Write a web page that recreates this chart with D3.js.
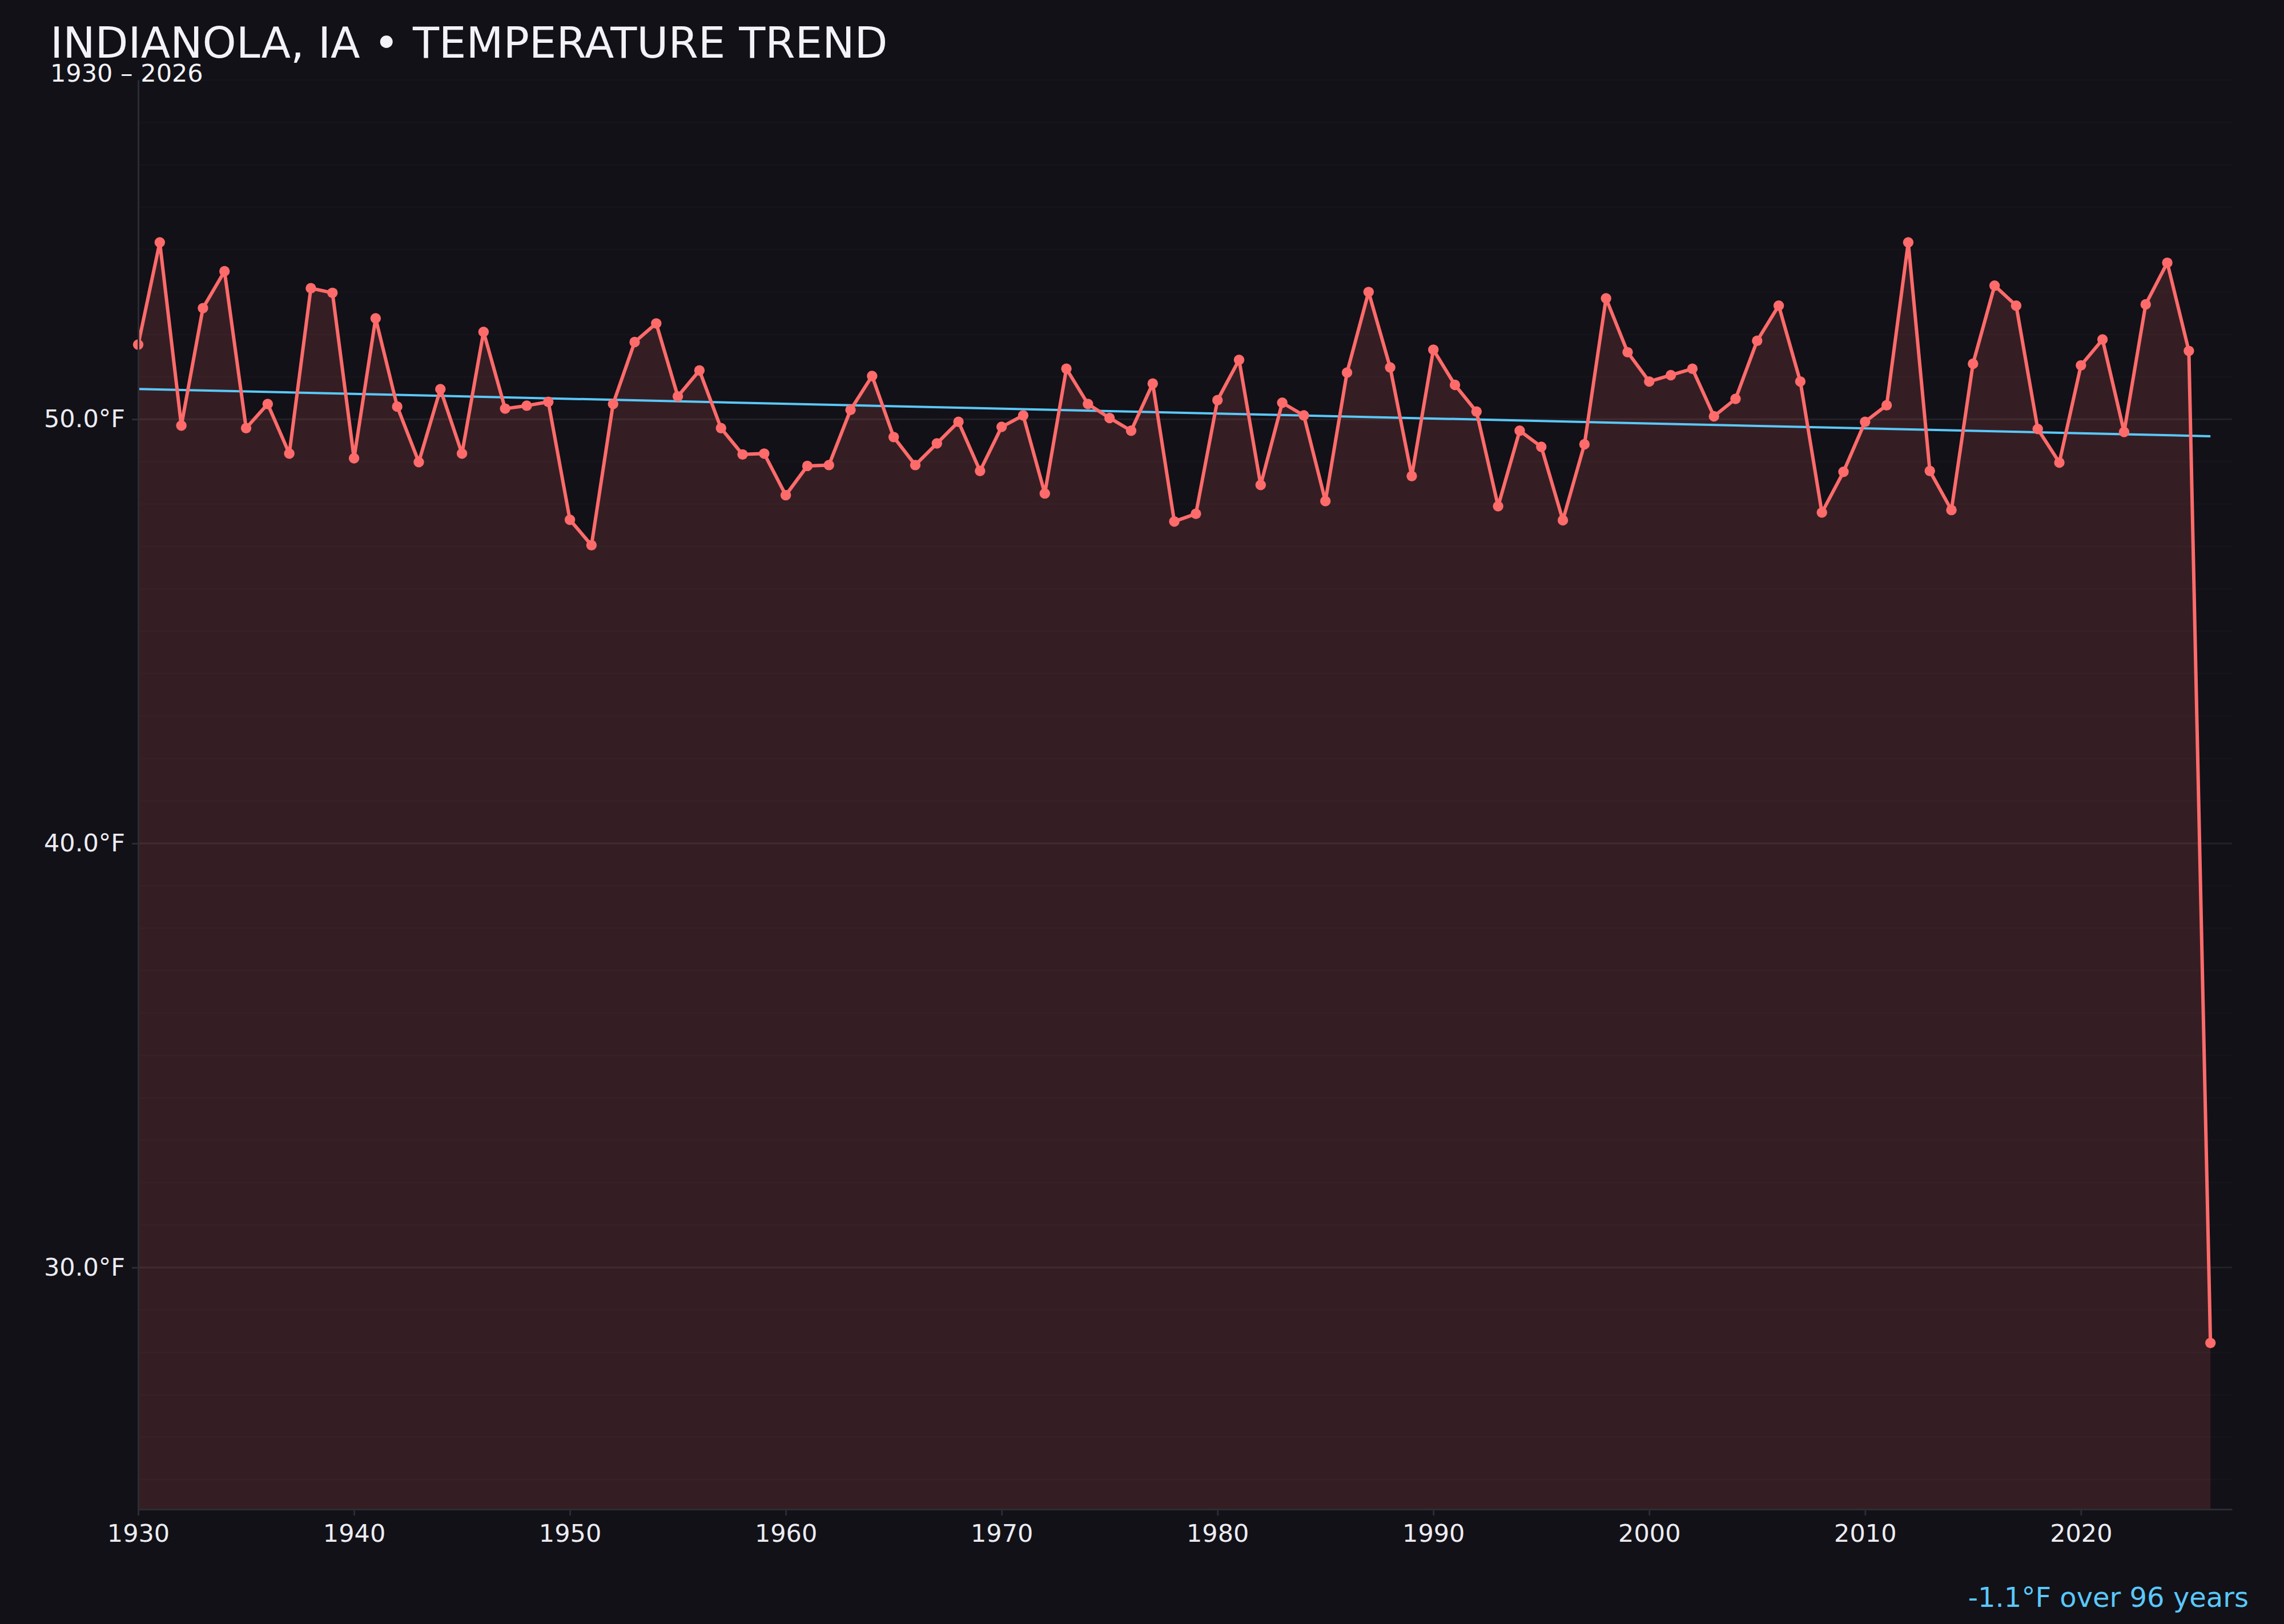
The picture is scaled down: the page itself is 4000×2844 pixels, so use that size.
<!DOCTYPE html>
<html>
<head>
<meta charset="utf-8">
<script src="https://cdn.jsdelivr.net/npm/d3@7"></script>
<style>
  html, body { margin: 0; padding: 0; background: #121117; }
  svg { display: block; font-family: "DejaVu Sans", sans-serif; }
</style>
</head>
<body>
<div id="chart"></div>
<script>
// Yearly mean temperature, Indianola IA
var years = d3.range(1930, 2027);
var temps = [
  51.76, 54.17, 49.85, 52.62, 53.49, 49.79, 50.36, 49.19, 53.09, 52.98,
  49.08, 52.38, 50.30, 48.99, 50.71, 49.19, 52.06, 50.25, 50.32, 50.41,
  47.63, 47.03, 50.36, 51.82, 52.26, 50.54, 51.15, 49.79, 49.17, 49.19,
  48.21, 48.90, 48.92, 50.22, 51.02, 49.58, 48.92, 49.43, 49.94, 48.78,
  49.82, 50.09, 48.25, 51.19, 50.36, 50.03, 49.73, 50.84, 47.59, 47.77,
  50.45, 51.40, 48.45, 50.39, 50.09, 48.07, 51.10, 53.00, 51.22, 48.66,
  51.64, 50.81, 50.18, 47.95, 49.73, 49.35, 47.62, 49.41, 52.85, 51.58,
  50.89, 51.04, 51.19, 50.07, 50.48, 51.85, 52.68, 50.89, 47.80, 48.76,
  49.94, 50.33, 54.17, 48.78, 47.86, 51.31, 53.15, 52.68, 49.77, 48.98,
  51.27, 51.88, 49.70, 52.71, 53.69, 51.61, 28.22
];
var xTicks = [1930, 1940, 1950, 1960, 1970, 1980, 1990, 2000, 2010, 2020];
var yTicks = [30, 40, 50];
var titleText = "INDIANOLA, IA \u2022 TEMPERATURE TREND";
var subtitleText = "1930 \u2013 2026";

var data = years.map(function(y, i) { return { year: y, temp: temps[i] }; });

var svgWidth = 4000;
var svgHeight = 2844;
var margin = { top: 140, right: 91, bottom: 201, left: 242 };
var chartWidth = svgWidth - margin.left - margin.right;
var chartHeight = svgHeight - margin.top - margin.bottom;

var svg = d3.select("#chart")
  .append("svg")
  .attr("width", svgWidth)
  .attr("height", svgHeight);

svg.append("rect")
  .attr("width", svgWidth)
  .attr("height", svgHeight)
  .attr("fill", "#121117");

var chartGroup = svg.append("g")
  .attr("transform", `translate(${margin.left}, ${margin.top})`);

var xScale = d3.scaleLinear()
  .domain([1930, 2027])
  .range([0, chartWidth]);

var yScale = d3.scaleLinear()
  .domain([24.3, 58])
  .range([chartHeight, 0]);

// faint grid every degree, a bit brighter on labelled ticks
chartGroup.append("g")
  .selectAll("line")
  .data(d3.range(25, 59))
  .enter()
  .append("line")
  .attr("x1", 0)
  .attr("x2", chartWidth)
  .attr("y1", d => yScale(d))
  .attr("y2", d => yScale(d))
  .attr("stroke", d => yTicks.indexOf(d) >= 0 ? "rgba(255,255,255,0.07)" : "rgba(255,255,255,0.016)")
  .attr("stroke-width", 3);

// area under the line
var area = d3.area()
  .x(d => xScale(d.year))
  .y0(chartHeight)
  .y1(d => yScale(d.temp));

chartGroup.append("path")
  .datum(data)
  .attr("d", area)
  .attr("fill", "rgba(255,107,107,0.15)");

// linear trend (least squares)
var mx = d3.mean(years), my = d3.mean(temps);
var sxy = d3.sum(data, d => (d.year - mx) * (d.temp - my));
var sxx = d3.sum(data, d => (d.year - mx) * (d.year - mx));
var slope = sxy / sxx;
var intercept = my - slope * mx;
var trendPts = [1930, 2026].map(y => ({ year: y, temp: intercept + slope * y }));

var line = d3.line()
  .x(d => xScale(d.year))
  .y(d => yScale(d.temp));

chartGroup.append("path")
  .datum(trendPts)
  .attr("d", line)
  .attr("fill", "none")
  .attr("stroke", "#5ac8fa")
  .attr("stroke-width", 4);

chartGroup.append("path")
  .datum(data)
  .attr("d", line)
  .attr("fill", "none")
  .attr("stroke", "#ff6b6b")
  .attr("stroke-width", 6)
  .attr("stroke-linejoin", "round");

chartGroup.selectAll("circle")
  .data(data)
  .enter()
  .append("circle")
  .attr("cx", d => xScale(d.year))
  .attr("cy", d => yScale(d.temp))
  .attr("r", 9.2)
  .attr("fill", "#ff6b6b");

// axes
var bottomAxis = d3.axisBottom(xScale)
  .tickValues(xTicks)
  .tickFormat(d3.format("d"))
  .tickSizeInner(11)
  .tickSizeOuter(0)
  .tickPadding(15);

var leftAxis = d3.axisLeft(yScale)
  .tickValues(yTicks)
  .tickFormat(d => d.toFixed(1) + "\u00B0F")
  .tickSizeInner(11)
  .tickSizeOuter(0)
  .tickPadding(12);

var xAxisG = chartGroup.append("g")
  .attr("transform", `translate(0, ${chartHeight})`)
  .call(bottomAxis);

var yAxisG = chartGroup.append("g")
  .call(leftAxis);

[xAxisG, yAxisG].forEach(function(g) {
  g.select(".domain").attr("stroke", "#2c2c35").attr("stroke-width", 3);
  g.selectAll(".tick line").attr("stroke", "#2c2c35").attr("stroke-width", 3);
  g.selectAll(".tick text")
    .attr("fill", "#ececf2")
    .attr("font-size", "43px")
    .attr("font-family", "DejaVu Sans");
});

// titles
svg.append("text")
  .attr("x", 88)
  .attr("y", 101)
  .attr("fill", "#f2f2f7")
  .attr("font-size", "75.3px")
  .text(titleText);

svg.append("text")
  .attr("x", 88)
  .attr("y", 143)
  .attr("fill", "#f2f2f7")
  .attr("font-size", "43px")
  .text(subtitleText);

// trend note
var change = slope * (2026 - 1930);
svg.append("text")
  .attr("x", 3938)
  .attr("y", 2814)
  .attr("text-anchor", "end")
  .attr("fill", "#5ac8fa")
  .attr("font-size", "48px")
  .text(`${change.toFixed(1)}\u00B0F over ${2026 - 1930} years`);
</script>
</body>
</html>
